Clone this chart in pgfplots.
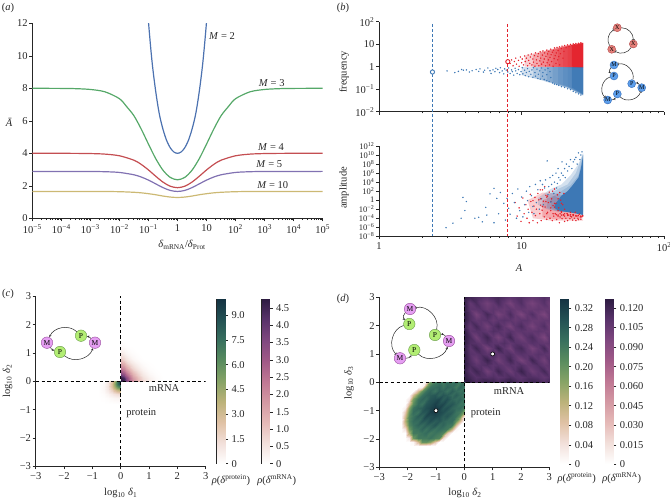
\documentclass[border=0pt]{standalone}
\usepackage{fontspec}
\setmainfont{Liberation Serif}
\usepackage{pgfplots}
\pgfplotsset{compat=1.18}
\usetikzlibrary{arrows.meta}

\definecolor{axc}{rgb}{.15,.15,.15}
\definecolor{cM2}{HTML}{4C72B0}
\definecolor{cM3}{HTML}{55A868}
\definecolor{cM4}{HTML}{C44E52}
\definecolor{cM5}{HTML}{8172B2}
\definecolor{cM10}{HTML}{CCB974}
\definecolor{sblue}{rgb}{.24,.47,.71}
\definecolor{sred}{rgb}{.89,.13,.17}
\definecolor{mfill}{rgb}{.90,.62,.95}
\definecolor{mdraw}{rgb}{.60,.30,.62}
\definecolor{pfill}{rgb}{.70,.93,.45}
\definecolor{pdraw}{rgb}{.42,.62,.30}
\definecolor{xfill}{rgb}{.90,.50,.48}
\definecolor{xdraw}{rgb}{.70,.28,.28}
\definecolor{bfill}{rgb}{.36,.62,.92}
\definecolor{bdraw}{rgb}{.20,.42,.72}

\newcommand{\fs}{\fontsize{10.5}{12}\selectfont}
\newcommand{\tp}[1]{10\textsuperscript{#1}}

\pgfplotsset{
  colormap={prot}{rgb=(1,1,1) rgb=(.95,.88,.86) rgb=(.88,.76,.65) rgb=(.74,.70,.48)
    rgb=(.53,.64,.40) rgb=(.35,.55,.37) rgb=(.22,.44,.37) rgb=(.14,.32,.33) rgb=(.08,.20,.26)},
  colormap={mrna}{rgb=(1,1,1) rgb=(.95,.88,.86) rgb=(.90,.73,.72) rgb=(.83,.60,.64)
    rgb=(.75,.47,.58) rgb=(.63,.35,.53) rgb=(.50,.28,.50) rgb=(.35,.20,.42) rgb=(.18,.11,.26)},
  base/.style={scale only axis, anchor=south west, axis lines=left,
    axis line style={-, line width=.6pt, color=axc},
    tick style={color=axc, line width=.5pt}, tick align=outside,
    major tick length=3pt, minor tick length=1.8pt,
    xtick pos=bottom, ytick pos=left,
    xticklabel style={inner sep=1pt, yshift=-1.8pt}, yticklabel style={inner sep=1.5pt},
    tick label style={font=\fs, text=axc}},
  heat/.style={scale only axis, anchor=south west, width=170pt, height=170pt, hide axis,
    xmin=-3, xmax=3, ymin=-3, ymax=3},
  squares/.style={base, width=170pt, height=170pt, xmin=-3, xmax=3, ymin=-3, ymax=3,
    xtick={-3,...,3}, ytick={-3,...,3},
    xticklabels={−3,−2,−1,0,1,2,3}, yticklabels={−3,−2,−1,0,1,2,3}},
  cb/.style={scale only axis, anchor=south west, xmin=0, xmax=1,
    axis line style={line width=.6pt, color=axc},
    tick style={color=axc, line width=.5pt}, tick align=outside, major tick length=3pt,
    xtick=\empty, ytick pos=right, tick label style={font=\fs, text=axc}},
  cross/.style={black, line width=1.1pt, dash pattern=on 3.2pt off 2.6pt},
  scat/.style={only marks, color=#1, mark=*, mark size=.5pt,
    mark options={draw=none, fill=#1, fill opacity=.4}},
  wash/.style={fill=#1, draw=none, fill opacity=.22},
}

\begin{document}
\begin{tikzpicture}[font=\fs]
\useasboundingbox (0pt,0pt) rectangle (670pt,-502pt);

% (a)
\begin{axis}[base, at={(32.3pt,-218.3pt)}, width=290.4pt, height=195pt,
  xmode=log, xmin=1e-5, xmax=1e5, ymin=0, ymax=12,
  xtick={1e-5,1e-4,1e-3,1e-2,1e-1,1,10,100,1000,1e4,1e5},
  xticklabels={\tp{−5},\tp{−4},\tp{−3},\tp{−2},\tp{−1},1,10,\tp{2},\tp{3},\tp{4},\tp{5}},
  ytick={0,2,...,12}, yticklabels={0,2,4,6,8,10,12},
  every axis plot/.append style={line width=1.2pt, smooth}]
\addplot[cM2] coordinates {(.08,14.6)(.1,12.1)(.133,9.63)(.178,7.8)(.237,6.41)(.316,5.48)(.422,4.79)(.562,4.34)(.75,4.08)(1,4)(1.33,4.08)(1.78,4.34)(2.37,4.79)(3.16,5.48)(4.22,6.41)(5.62,7.8)(7.5,9.63)(10,12.1)(12.5,14.6)};
\addplot[cM3] coordinates {(1e-5,8)(1e-4,7.993)(3.16e-4,7.977)(1e-3,7.928)(3.16e-3,7.785)(1e-2,7.361)(1.78e-2,6.87)(3.16e-2,6.309)(5.62e-2,5.496)(.1,4.565)(.178,3.671)(.316,2.959)(.562,2.517)(1,2.37)(1.78,2.517)(3.16,2.959)(5.62,3.671)(10,4.565)(17.8,5.496)(31.6,6.309)(56.2,6.87)(100,7.361)(316,7.785)(1000,7.928)(3160,7.977)(1e4,7.993)(1e5,8)};
\addplot[cM4] coordinates {(1e-5,4)(1e-4,3.998)(3.16e-4,3.995)(1e-3,3.984)(3.16e-3,3.95)(1e-2,3.847)(3.16e-2,3.575)(5.62e-2,3.317)(.1,2.976)(.178,2.588)(.316,2.227)(.562,1.974)(1,1.884)(1.78,1.974)(3.16,2.227)(5.62,2.588)(10,2.976)(17.8,3.317)(31.6,3.575)(100,3.847)(316,3.95)(1000,3.984)(3160,3.995)(1e4,3.998)(1e5,4)};
\addplot[cM5] coordinates {(1e-5,2.886)(1e-4,2.885)(1e-3,2.88)(3.16e-3,2.867)(1e-2,2.822)(3.16e-2,2.678)(5.62e-2,2.541)(.1,2.35)(.178,2.119)(.316,1.888)(.562,1.715)(1,1.652)(1.78,1.715)(3.16,1.888)(5.62,2.119)(10,2.35)(17.8,2.541)(31.6,2.678)(100,2.822)(316,2.867)(1000,2.88)(1e4,2.885)(1e5,2.886)};
\addplot[cM10] coordinates {(1e-5,1.652)(1e-3,1.65)(3.16e-3,1.648)(1e-2,1.637)(3.16e-2,1.601)(5.62e-2,1.567)(.1,1.515)(.178,1.449)(.316,1.37)(.562,1.307)(1,1.281)(1.78,1.307)(3.16,1.37)(5.62,1.449)(10,1.515)(17.8,1.567)(31.6,1.601)(100,1.637)(316,1.648)(1000,1.65)(1e5,1.652)};
\end{axis}

% (b) frequency
\begin{axis}[base, at={(379pt,-111.7pt)}, width=285.3pt, height=90pt, clip=false,
  xmode=log, ymode=log, xmin=1, xmax=100, ymin=1e-2, ymax=100,
  xtick={1,10,100}, xticklabels={,,}, yminorticks=false,
  ytick={1e-2,1e-1,1,10,100}, yticklabels={\tp{−2},\tp{−1},1,10,\tp{2}}]
\addplot[wash=sblue] coordinates {(10,.95)(10,.42)(12,.31)(13.5,.26)(15,.21)(16.5,.18)(18,.155)(19.5,.13)(21,.115)(27,.052)(27,.95)} --cycle;
\addplot[wash=sblue] coordinates {(12,.95)(12,.33)(13.5,.27)(15,.22)(16.5,.18)(18,.155)(19.5,.13)(21,.115)(27,.053)(27,.95)} --cycle;
\addplot[wash=sblue] coordinates {(13.5,.95)(13.5,.29)(15,.23)(16.5,.19)(18,.16)(19.5,.135)(21,.118)(27,.054)(27,.95)} --cycle;
\addplot[wash=sblue] coordinates {(15,.95)(15,.24)(16.5,.2)(18,.165)(19.5,.14)(21,.12)(27,.055)(27,.95)} --cycle;
\addplot[wash=sblue] coordinates {(16.5,.95)(16.5,.21)(18,.17)(19.5,.145)(21,.125)(27,.056)(27,.95)} --cycle;
\addplot[wash=sblue] coordinates {(18,.95)(18,.18)(19.5,.15)(21,.13)(27,.057)(27,.95)} --cycle;
\addplot[wash=sblue] coordinates {(19.5,.95)(19.5,.16)(21,.135)(27,.058)(27,.95)} --cycle;
\addplot[wash=sblue] coordinates {(21,.95)(21,.14)(27,.059)(27,.95)} --cycle;
\addplot[fill=sblue, draw=none, fill opacity=.85] coordinates {(22.5,.95)(22.5,.12)(27,.06)(27,.95)} --cycle;
\addplot[wash=sred] coordinates {(10.5,1)(10.5,3.1)(12,3.8)(13.5,4.5)(15,5.4)(16.5,6.2)(18,7.2)(19.5,8.2)(21,9)(27,11.7)(27,.95)} --cycle;
\addplot[wash=sred] coordinates {(12,1)(12,3.6)(13.5,4.3)(15,5.2)(16.5,6)(18,7)(19.5,8)(21,9)(27,11.7)(27,.95)} --cycle;
\addplot[wash=sred] coordinates {(13.5,1)(13.5,4.1)(15,5)(16.5,5.8)(18,6.8)(19.5,7.8)(21,8.8)(27,11.6)(27,.95)} --cycle;
\addplot[wash=sred] coordinates {(15,1)(15,4.8)(16.5,5.6)(18,6.6)(19.5,7.6)(21,8.6)(27,11.6)(27,.95)} --cycle;
\addplot[wash=sred] coordinates {(16.5,1)(16.5,5.4)(18,6.4)(19.5,7.4)(21,8.4)(27,11.5)(27,.95)} --cycle;
\addplot[wash=sred] coordinates {(18,1)(18,6.2)(19.5,7.2)(21,8.2)(27,11.5)(27,.95)} --cycle;
\addplot[wash=sred] coordinates {(19.5,1)(19.5,7)(21,8.1)(27,11.4)(27,.95)} --cycle;
\addplot[wash=sred] coordinates {(21,1)(21,8)(27,11.3)(27,.95)} --cycle;
\addplot[fill=sred, draw=none, fill opacity=.85] coordinates {(22.5,1)(22.5,8.6)(27,11.2)(27,.95)} --cycle;
\addplot[scat=sblue] coordinates {(3,.65)(3.4,.55)(3.6,.62)(3.8,.75)(3.9,.7)(4.1,.72)(4.3,.58)(4.5,.66)(4.8,.75)(5,.62)(5.1,.8)(5.4,.58)(5.5,.7)(5.8,.88)(6,.66)(6.1,.5)(6.3,.72)(6.5,.6)(6.6,.85)(6.8,.75)(7,.55)(7.1,.9)(7.3,.65)(7.5,.48)(7.6,.8)(7.8,.7)(8,.58)(8.1,.88)(8.3,.5)(8.5,.72)(8.6,.6)(8.8,.42)(9,.85)(9.1,.65)(9.3,.5)(9.5,.75)(9.7,.44)(9.9,.6)(10.1,.9)(10.2,.48)(10.5,.7)(10.6,.4)(10.8,.55)(11,.82)(11.2,.36)(11.3,.62)(11.6,.46)(11.8,.72)(12,.34)(12.1,.9)(12.4,.55)(12.5,.38)(12.8,.78)(13,.3)(13.1,.46)(13.4,.65)(13.5,.28)(13.8,.88)(14,.38)(14.1,.55)(14.4,.27)(14.6,.72)(15,.24)(15,.44)(15.3,.85)(15.6,.22)(15.8,.6)(16,.33)(16.5,.19)(17,.17)(17.6,.16)(18.2,.15)(19,.13)(20,.12)(21,.105)(22,.095)(23,.08)(24,.07)(25,.062)(26,.055)};
\addplot[scat=sred] coordinates {(8.3,1.4)(8.5,2.0)(8.7,1.1)(8.9,1.7)(9.1,2.4)(9.2,1.3)(9.5,1.9)(9.6,1.05)(9.8,2.7)(10,1.5)(10.1,2.2)(10.3,1.2)(10.5,3)(10.6,1.7)(10.8,2.4)(11,1.1)(11.1,3.3)(11.2,1.9)(11.4,1.4)(11.5,2.7)(11.7,3.7)(11.8,1.2)(12,2.2)(12.1,1.6)(12.3,3.1)(12.4,1.05)(12.5,4.1)(12.7,2)(12.8,1.4)(13,2.9)(13.1,3.8)(13.2,1.1)(13.4,1.8)(13.5,4.6)(13.6,2.4)(13.8,1.3)(14,3.3)(14.1,5)(14.2,1.6)(14.4,2.2)(14.5,4.1)(14.7,1.1)(14.8,2.9)(15,5.5)(15.1,1.5)(15.2,3.7)(15.4,2)(15.5,4.8)(15.7,1.2)(15.8,2.6)(16,6)(16.1,3.4)(16.2,1.7)(16.4,4.4)(16.6,1.05)(16.7,5.4)(16.9,2.3)(17,6.8)(17.2,3.1)(17.4,1.4)(17.5,4.1)(17.7,7.2)(17.9,2)(18,5.2)(18.2,2.8)(18.4,7.6)(18.5,1.2)(18.7,3.8)(19,6.4)(19.2,8.2)(19.5,2.4)(19.8,4.8)(20,8.8)(20.5,7)(21,9.3)(21.5,7.8)(22,9.8)(22.5,8.6)(23,10.2)(23.5,9.4)(24,10.8)(25,11)(26,11.5)};
\addplot[color=sblue, line width=1.1pt, dash pattern=on 3pt off 2pt] coordinates {(2.37,80)(2.37,2.88e-8)};
\addplot[color=sred, line width=1.1pt, dash pattern=on 3pt off 2pt] coordinates {(8,80)(8,2.88e-8)};
\addplot[only marks, mark=*, mark size=2.1pt, mark options={fill=white, draw=sblue, line width=.9pt}] coordinates {(2.37,.58)};
\addplot[only marks, mark=*, mark size=2.1pt, mark options={fill=white, draw=sred, line width=.9pt}] coordinates {(8,1.67)};
\end{axis}

% (b) amplitude
\begin{axis}[base, at={(379pt,-236.3pt)}, width=285.3pt, height=90.3pt,
  xmode=log, ymode=log, xmin=1, xmax=100, ymin=1e-8, ymax=1e12,
  xtick={1,10,100}, xticklabels={1,10,\tp{2}}, yminorticks=false,
  ytick={1e-8,1e-6,1e-4,1e-2,1,1e2,1e4,1e6,1e8,1e10,1e12},
  yticklabels={\tp{−8},\tp{−6},\tp{−4},\tp{−2},1,\tp{2},\tp{4},\tp{6},\tp{8},\tp{10},\tp{12}},
  yticklabel style={font=\fontsize{8.5}{8.5}\selectfont, inner ysep=0pt}]
\addplot[scat=sred] coordinates {(9,.3)(9.3,3e-4)(9.6,.02)(9.9,2e-5)(10.2,3)(10.4,1e-3)(10.7,.1)(10.9,1e-4)(11.1,.01)(11.3,1e-5)(11.5,20)(11.6,.5)(11.8,2e-3)(12,3e-5)(12.2,.05)(12.4,4)(12.5,4e-4)(12.7,.01)(12.9,1e-5)(13,30)(13.2,1.2)(13.4,1e-3)(13.6,.08)(13.7,3e-5)(13.9,6e-3)(14,200)(14.2,.6)(14.4,2e-4)(14.6,.03)(14.8,12)(15,6e-5)(15.2,2e-3)(15.4,.3)(15.6,60)(15.8,1e-4)(16,5e-3)(16.2,2)(16.4,3e-5)(16.6,.06)(16.8,3e-4)(17,300)(17.2,1e-3)(17.4,.2)(17.6,5e-5)(17.8,15)(18,5e-4)(18.2,.02)(18.4,1e-5)(18.6,2e-4)(18.8,1)(19,3e-3)(19.2,8e-5)(19.4,.1)(19.6,5e-4)(19.8,30)(20,2e-5)(20.4,1e-4)(20.8,1e-3)(21,3e-5)(21.4,5e-4)(21.8,8e-5)(22,2e-3)(22.4,2e-4)(22.8,4e-5)(23,6e-4)(23.4,1e-4)(23.8,2e-3)(24,3e-5)(24.4,3e-4)(24.8,1e-4)(25,5e-5)(25.4,8e-4)(25.8,2e-4)(26,6e-5)(26.4,2e-4)(26.8,3e-4)(18,3e-4)(19,5e-4)(20,3e-4)(21,4e-4)(22,3e-4)(23,4e-4)(24,3e-4)(25,4e-4)(26,3e-4)(15,5)(16,.5)(17,.03)(18,2)(19,.2)(20,.01)(13.5,200)(14.5,1e3)(12,.8)(16.5,100)(18.5,50)};
\addplot[wash=sred] coordinates {(11,1)(14,50)(18,30)(21,1)(27,3e-5)(22,3e-5)(16,3e-5)(12,1e-4)} --cycle;
\addplot[wash=sred] coordinates {(14,1)(17,10)(21,.1)(27,1e-4)(22,6e-5)(17,6e-5)(14,2e-4)} --cycle;
\addplot[wash=sblue] coordinates {(13,3)(16,300)(19,3e3)(22,3e5)(25,1e8)(27,3e10)(27,3e-3)(22,2e-3)(18,3e-3)(15,.01)(13,.1)} --cycle;
\addplot[wash=sblue] coordinates {(15,10)(18,300)(21,3e3)(24,1e6)(27,2e10)(27,2e-3)(22,2e-3)(18,3e-3)(15,.02)} --cycle;
\addplot[wash=sblue] coordinates {(16,3)(19,100)(22,2e3)(25,3e5)(27,2e10)(27,1e-3)(22,2e-3)(18,4e-3)(16,.02)} --cycle;
\addplot[fill=sblue, draw=none] coordinates {(27,1e10)(26,1e7)(25,1e5)(23,3e3)(21,100)(19,10)(18,1)(17,.1)(17,.02)(18,5e-3)(20,3e-3)(23,1.5e-3)(27,5e-4)} --cycle;
\addplot[scat=sblue] coordinates {(2.95,8e-7)(3.3,8e-6)(3.76,1e-4)(3.88,4)(4,5e-3)(4.1,.5)(4.7,1e-4)(5,1.6e-4)(5.3,1.6e-5)(5.6,.025)(5.7,5e-4)(6,25)(6.4,400)(6.4,1e-5)(6.7,2.5)(6.9,1e-3)(7.1,50)(7.5,.2)(7.7,4e-5)(7.9,2.5)(8.1,.016)(8.3,8e-4)(8.6,30)(8.9,.3)(9.2,1e-4)(9.4,300)(9.7,.005)(10,5)(10.2,2e-4)(10.5,.1)(10.8,100)(11,.8)(11.2,2e-3)(11.4,1e3)(11.7,10)(12,.04)(12.2,1e-3)(12.5,3e3)(12.7,.3)(13,200)(13.3,.01)(13.5,2e4)(13.8,2)(14,3e3)(14.2,.1)(14.5,500)(14.7,3e4)(15.1,5e8)(15.3,20)(15.5,1e3)(15.8,1e5)(16,.4)(16.2,3e3)(16.5,3e5)(16.8,30)(17,1e4)(17.4,1e6)(17.6,500)(17.8,5e3)(18,1e7)(18.2,1e5)(18.6,3e4)(19,1e6)(19.2,3e8)(19.5,3e5)(20,1e7)(20.2,1e5)(20.6,1e8)(21,3e6)(21.5,3e7)(22,1e9)(22.5,1e7)(23,3e8)(23.5,1e9)(24,3e9)(24.5,1e8)(25,3e10)(25.6,1e9)(26,1e10)(26.5,5e10)};
\addplot[scat=sred] coordinates {(15,1e-3)(16,2e-2)(16.6,1e-3)(17,.2)(17.5,6e-4)(18,5e-3)(18.6,1e-3)(19,2e-3)(19.6,6e-4)(20,1e-3)(21,8e-4)(22,6e-4)(23,6e-4)(24,4e-4)(25,4e-4)(26,3e-4)(26.8,4e-4)(14.8,.5)(15.2,8)(14,.04)(13.6,2)};
\end{axis}

% (c)
\begin{axis}[heat, at={(35.7pt,-466.3pt)}, colormap name=mrna, point meta min=0, point meta max=4.76]
\addplot[surf, shader=interp, mesh/cols=10, point meta=explicit] coordinates {
(0,0)[4.75](.1,0)[4.6](.2,0)[3.8](.3,0)[2.9](.45,0)[1.9](.6,0)[1.2](.8,0)[.7](1,0)[.35](1.25,0)[.12](1.5,0)[0]
(0,.1)[4.7](.1,.1)[4.4](.2,.1)[3.5](.3,.1)[2.7](.45,.1)[1.75](.6,.1)[1.1](.8,.1)[.62](1,.1)[.3](1.25,.1)[.09](1.5,.1)[0]
(0,.2)[4.2](.1,.2)[3.7](.2,.2)[3](.3,.2)[2.4](.45,.2)[1.5](.6,.2)[.95](.8,.2)[.5](1,.2)[.22](1.25,.2)[.06](1.5,.2)[0]
(0,.3)[3.3](.1,.3)[2.9](.2,.3)[2.4](.3,.3)[1.9](.45,.3)[1.2](.6,.3)[.72](.8,.3)[.36](1,.3)[.14](1.25,.3)[.03](1.5,.3)[0]
(0,.45)[2.4](.1,.45)[2.1](.2,.45)[1.7](.3,.45)[1.3](.45,.45)[.8](.6,.45)[.45](.8,.45)[.2](1,.45)[.06](1.25,.45)[.01](1.5,.45)[0]
(0,.6)[1.6](.1,.6)[1.4](.2,.6)[1.05](.3,.6)[.75](.45,.6)[.45](.6,.6)[.22](.8,.6)[.08](1,.6)[.02](1.25,.6)[0](1.5,.6)[0]
(0,.8)[.9](.1,.8)[.72](.2,.8)[.52](.3,.8)[.33](.45,.8)[.16](.6,.8)[.06](.8,.8)[.01](1,.8)[0](1.25,.8)[0](1.5,.8)[0]
(0,1)[.42](.1,1)[.3](.2,1)[.2](.3,1)[.11](.45,1)[.05](.6,1)[.01](.8,1)[0](1,1)[0](1.25,1)[0](1.5,1)[0]
(0,1.25)[.1](.1,1.25)[.06](.2,1.25)[.03](.3,1.25)[.01](.45,1.25)[0](.6,1.25)[0](.8,1.25)[0](1,1.25)[0](1.25,1.25)[0](1.5,1.25)[0]
(0,1.5)[0](.1,1.5)[0](.2,1.5)[0](.3,1.5)[0](.45,1.5)[0](.6,1.5)[0](.8,1.5)[0](1,1.5)[0](1.25,1.5)[0](1.5,1.5)[0]
};
\end{axis}
\begin{axis}[squares, at={(35.7pt,-466.3pt)}, colormap name=prot, point meta min=0, point meta max=9.97]
\addplot[surf, shader=interp, mesh/cols=7, point meta=explicit] coordinates {
(-.8,0)[0](-.6,0)[.15](-.45,0)[.8](-.3,0)[2.4](-.2,0)[4.6](-.1,0)[8](0,0)[9.9]
(-.8,-.1)[0](-.6,-.1)[.3](-.45,-.1)[1](-.3,-.1)[3](-.2,-.1)[5.2](-.1,-.1)[7.8](0,-.1)[9]
(-.8,-.2)[0](-.6,-.2)[.35](-.45,-.2)[1.1](-.3,-.2)[2.7](-.2,-.2)[4.4](-.1,-.2)[6](0,-.2)[6.8]
(-.8,-.3)[0](-.6,-.3)[.3](-.45,-.3)[.9](-.3,-.3)[1.9](-.2,-.3)[2.9](-.1,-.3)[3.6](0,-.3)[4]
(-.8,-.45)[0](-.6,-.45)[.15](-.45,-.45)[.45](-.3,-.45)[.9](-.2,-.45)[1.2](-.1,-.45)[1.4](0,-.45)[1.5]
(-.8,-.6)[0](-.6,-.6)[.05](-.45,-.6)[.15](-.3,-.6)[.3](-.2,-.6)[.4](-.1,-.6)[.45](0,-.6)[.45]
(-.8,-.8)[0](-.6,-.8)[0](-.45,-.8)[0](-.3,-.8)[0](-.2,-.8)[0](-.1,-.8)[0](0,-.8)[0]
};
\addplot[cross] coordinates {(-3,0)(3,0)};
\addplot[cross] coordinates {(0,-3)(0,3)};
\end{axis}
\begin{axis}[cb, at={(216.7pt,-463.7pt)}, width=8.3pt, height=164.7pt, ymin=0, ymax=9.97,
  colormap name=prot, point meta min=0, point meta max=9.97,
  ytick={0,1.5,3,4.5,6,7.5,9}, yticklabels={0,1.5,3.0,4.5,6.0,7.5,9.0}]
\addplot[surf, shader=interp, mesh/cols=2, point meta=explicit] coordinates {(0,0)[0](1,0)[0](0,9.97)[9.97](1,9.97)[9.97]};
\end{axis}
\begin{axis}[cb, at={(261.7pt,-463.7pt)}, width=7.8pt, height=164.7pt, ymin=0, ymax=4.76,
  colormap name=mrna, point meta min=0, point meta max=4.76,
  ytick={0,.5,1,1.5,2,2.5,3,3.5,4,4.5}, yticklabels={0,0.5,1.0,1.5,2.0,2.5,3.0,3.5,4.0,4.5}]
\addplot[surf, shader=interp, mesh/cols=2, point meta=explicit] coordinates {(0,0)[0](1,0)[0](0,4.76)[4.76](1,4.76)[4.76]};
\end{axis}

% (d)
\begin{axis}[heat, at={(379.3pt,-467.3pt)}, colormap name=mrna, point meta min=0, point meta max=.118]
\addplot[surf, shader=interp, mesh/cols=16, point meta=explicit] coordinates {
(0,0)[.122](.2,0)[.116](.4,0)[.108](.6,0)[.112](.8,0)[.116](1,0)[.114](1.2,0)[.108](1.4,0)[.112](1.6,0)[.118](1.8,0)[.112](2,0)[.106](2.2,0)[.11](2.4,0)[.114](2.6,0)[.112](2.8,0)[.106](3,0)[.11]
(0,.2)[.12](.2,.2)[.11](.4,.2)[.104](.6,.2)[.106](.8,.2)[.104](1,.2)[.106](1.2,.2)[.102](1.4,.2)[.104](1.6,.2)[.108](1.8,.2)[.104](2,.2)[.102](2.2,.2)[.106](2.4,.2)[.106](2.6,.2)[.104](2.8,.2)[.1](3,.2)[.104]
(0,.4)[.116](.2,.4)[.104](.4,.4)[.112](.6,.4)[.106](.8,.4)[.094](1,.4)[.102](1.2,.4)[.112](1.4,.4)[.104](1.6,.4)[.096](1.8,.4)[.104](2,.4)[.114](2.2,.4)[.104](2.4,.4)[.096](2.6,.4)[.102](2.8,.4)[.11](3,.4)[.1]
(0,.6)[.118](.2,.6)[.108](.4,.6)[.102](.6,.6)[.104](.8,.6)[.106](1,.6)[.102](1.2,.6)[.104](1.4,.6)[.1](1.6,.6)[.104](1.8,.6)[.102](2,.6)[.106](2.2,.6)[.1](2.4,.6)[.102](2.6,.6)[.106](2.8,.6)[.1](3,.6)[.102]
(0,.8)[.122](.2,.8)[.106](.4,.8)[.096](.6,.8)[.104](.8,.8)[.114](1,.8)[.104](1.2,.8)[.094](1.4,.8)[.102](1.6,.8)[.112](1.8,.8)[.102](2,.8)[.092](2.2,.8)[.1](2.4,.8)[.112](2.6,.8)[.102](2.8,.8)[.094](3,.8)[.104]
(0,1)[.118](.2,1)[.104](.4,1)[.102](.6,1)[.106](.8,1)[.102](1,1)[.108](1.2,1)[.1](1.4,1)[.104](1.6,1)[.106](1.8,1)[.1](2,1)[.104](2.2,1)[.102](2.4,1)[.1](2.6,1)[.104](2.8,1)[.102](3,1)[.1]
(0,1.2)[.116](.2,1.2)[.102](.4,1.2)[.112](.6,1.2)[.104](.8,1.2)[.092](1,1.2)[.102](1.2,1.2)[.114](1.4,1.2)[.102](1.6,1.2)[.094](1.8,1.2)[.106](2,1.2)[.11](2.2,1.2)[.1](2.4,1.2)[.092](2.6,1.2)[.1](2.8,1.2)[.11](3,1.2)[.098]
(0,1.4)[.12](.2,1.4)[.106](.4,1.4)[.104](.6,1.4)[.1](.8,1.4)[.106](1,1.4)[.102](1.2,1.4)[.102](1.4,1.4)[.106](1.6,1.4)[.1](1.8,1.4)[.104](2,1.4)[.102](2.2,1.4)[.1](2.4,1.4)[.104](2.6,1.4)[.102](2.8,1.4)[.1](3,1.4)[.102]
(0,1.6)[.122](.2,1.6)[.108](.4,1.6)[.094](.6,1.6)[.104](.8,1.6)[.112](1,1.6)[.1](1.2,1.6)[.092](1.4,1.6)[.102](1.6,1.6)[.112](1.8,1.6)[.1](2,1.6)[.094](2.2,1.6)[.104](2.4,1.6)[.108](2.6,1.6)[.098](2.8,1.6)[.09](3,1.6)[.102]
(0,1.8)[.118](.2,1.8)[.102](.4,1.8)[.104](.6,1.8)[.104](.8,1.8)[.1](1,1.8)[.106](1.2,1.8)[.104](1.4,1.8)[.1](1.6,1.8)[.104](1.8,1.8)[.1](2,1.8)[.102](2.2,1.8)[.1](2.4,1.8)[.1](2.6,1.8)[.102](2.8,1.8)[.1](3,1.8)[.098]
(0,2)[.114](.2,2)[.1](.4,2)[.11](.6,2)[.102](.8,2)[.094](1,2)[.104](1.2,2)[.11](1.4,2)[.1](1.6,2)[.092](1.8,2)[.102](2,2)[.108](2.2,2)[.098](2.4,2)[.092](2.6,2)[.1](2.8,2)[.106](3,2)[.096]
(0,2.2)[.118](.2,2.2)[.106](.4,2.2)[.1](.6,2.2)[.102](.8,2.2)[.104](1,2.2)[.098](1.2,2.2)[.102](1.4,2.2)[.104](1.6,2.2)[.102](1.8,2.2)[.098](2,2.2)[.102](2.2,2.2)[.102](2.4,2.2)[.098](2.6,2.2)[.098](2.8,2.2)[.1](3,2.2)[.1]
(0,2.4)[.12](.2,2.4)[.106](.4,2.4)[.092](.6,2.4)[.1](.8,2.4)[.11](1,2.4)[.102](1.2,2.4)[.092](1.4,2.4)[.098](1.6,2.4)[.108](1.8,2.4)[.098](2,2.4)[.09](2.2,2.4)[.1](2.4,2.4)[.106](2.6,2.4)[.096](2.8,2.4)[.09](3,2.4)[.1]
(0,2.6)[.116](.2,2.6)[.102](.4,2.6)[.102](.6,2.6)[.104](.8,2.6)[.098](1,2.6)[.102](1.2,2.6)[.1](1.4,2.6)[.098](1.6,2.6)[.102](1.8,2.6)[.098](2,2.6)[.1](2.2,2.6)[.098](2.4,2.6)[.098](2.6,2.6)[.1](2.8,2.6)[.098](3,2.6)[.098]
(0,2.8)[.116](.2,2.8)[.1](.4,2.8)[.108](.6,2.8)[.1](.8,2.8)[.094](1,2.8)[.1](1.2,2.8)[.108](1.4,2.8)[.1](1.6,2.8)[.092](1.8,2.8)[.1](2,2.8)[.106](2.2,2.8)[.096](2.4,2.8)[.092](2.6,2.8)[.098](2.8,2.8)[.104](3,2.8)[.096]
(0,3)[.122](.2,3)[.112](.4,3)[.108](.6,3)[.106](.8,3)[.104](1,3)[.108](1.2,3)[.11](1.4,3)[.106](1.6,3)[.102](1.8,3)[.104](2,3)[.106](2.2,3)[.102](2.4,3)[.1](2.6,3)[.102](2.8,3)[.106](3,3)[.102]
};
\end{axis}
\begin{axis}[squares, at={(379.3pt,-467.3pt)}, colormap name=prot, point meta min=0, point meta max=.338]
\addplot[surf, shader=interp, mesh/cols=16, point meta=explicit] coordinates {
(-2.25,0)[0](-2.1,0)[0](-1.95,0)[0](-1.8,0)[0](-1.65,0)[0](-1.5,0)[0](-1.35,0)[.02](-1.2,0)[.19](-1.05,0)[.24](-.9,0)[.25](-.75,0)[.24](-.6,0)[.26](-.45,0)[.25](-.3,0)[.26](-.15,0)[.24](0,0)[.25]
(-2.25,-.15)[0](-2.1,-.15)[0](-1.95,-.15)[0](-1.8,-.15)[0](-1.65,-.15)[0](-1.5,-.15)[.02](-1.35,-.15)[.19](-1.2,-.15)[.25](-1.05,-.15)[.26](-.9,-.15)[.27](-.75,-.15)[.25](-.6,-.15)[.27](-.45,-.15)[.26](-.3,-.15)[.24](-.15,-.15)[.27](0,-.15)[.25]
(-2.25,-.3)[0](-2.1,-.3)[0](-1.95,-.3)[0](-1.8,-.3)[0](-1.65,-.3)[.1](-1.5,-.3)[.2](-1.35,-.3)[.25](-1.2,-.3)[.27](-1.05,-.3)[.25](-.9,-.3)[.28](-.75,-.3)[.27](-.6,-.3)[.25](-.45,-.3)[.28](-.3,-.3)[.26](-.15,-.3)[.25](0,-.3)[.26]
(-2.25,-.45)[0](-2.1,-.45)[0](-1.95,-.45)[0](-1.8,-.45)[.1](-1.65,-.45)[.2](-1.5,-.45)[.25](-1.35,-.45)[.27](-1.2,-.45)[.28](-1.05,-.45)[.29](-.9,-.45)[.27](-.75,-.45)[.29](-.6,-.45)[.28](-.45,-.45)[.26](-.3,-.45)[.28](-.15,-.45)[.26](0,-.45)[.24]
(-2.25,-.6)[0](-2.1,-.6)[0](-1.95,-.6)[.03](-1.8,-.6)[.18](-1.65,-.6)[.25](-1.5,-.6)[.27](-1.35,-.6)[.26](-1.2,-.6)[.29](-1.05,-.6)[.3](-.9,-.6)[.31](-.75,-.6)[.28](-.6,-.6)[.3](-.45,-.6)[.27](-.3,-.6)[.26](-.15,-.6)[.27](0,-.6)[.25]
(-2.25,-.75)[0](-2.1,-.75)[0](-1.95,-.75)[.09](-1.8,-.75)[.21](-1.65,-.75)[.26](-1.5,-.75)[.25](-1.35,-.75)[.29](-1.2,-.75)[.3](-1.05,-.75)[.32](-.9,-.75)[.3](-.75,-.75)[.31](-.6,-.75)[.28](-.45,-.75)[.29](-.3,-.75)[.27](-.15,-.75)[.25](0,-.75)[.25]
(-2.25,-.9)[0](-2.1,-.9)[.02](-1.95,-.9)[.17](-1.8,-.9)[.25](-1.65,-.9)[.27](-1.5,-.9)[.28](-1.35,-.9)[.3](-1.2,-.9)[.31](-1.05,-.9)[.33](-.9,-.9)[.32](-.75,-.9)[.29](-.6,-.9)[.3](-.45,-.9)[.27](-.3,-.9)[.26](-.15,-.9)[.26](0,-.9)[.23]
(-2.25,-1.05)[0](-2.1,-1.05)[.07](-1.95,-1.05)[.2](-1.8,-1.05)[.26](-1.65,-1.05)[.25](-1.5,-1.05)[.29](-1.35,-1.05)[.29](-1.2,-1.05)[.32](-1.05,-1.05)[.33](-.9,-1.05)[.31](-.75,-1.05)[.3](-.6,-1.05)[.28](-.45,-1.05)[.28](-.3,-1.05)[.25](-.15,-1.05)[.24](0,-1.05)[.18]
(-2.25,-1.2)[0](-2.1,-1.2)[.1](-1.95,-1.2)[.22](-1.8,-1.2)[.25](-1.65,-1.2)[.28](-1.5,-1.2)[.27](-1.35,-1.2)[.31](-1.2,-1.2)[.3](-1.05,-1.2)[.31](-.9,-1.2)[.3](-.75,-1.2)[.28](-.6,-1.2)[.29](-.45,-1.2)[.26](-.3,-1.2)[.25](-.15,-1.2)[.2](0,-1.2)[.05]
(-2.25,-1.35)[0](-2.1,-1.35)[.13](-1.95,-1.35)[.23](-1.8,-1.35)[.26](-1.65,-1.35)[.26](-1.5,-1.35)[.29](-1.35,-1.35)[.28](-1.2,-1.35)[.3](-1.05,-1.35)[.28](-.9,-1.35)[.29](-.75,-1.35)[.27](-.6,-1.35)[.26](-.45,-1.35)[.26](-.3,-1.35)[.2](-.15,-1.35)[.1](0,-1.35)[0]
(-2.25,-1.5)[0](-2.1,-1.5)[.1](-1.95,-1.5)[.22](-1.8,-1.5)[.25](-1.65,-1.5)[.27](-1.5,-1.5)[.26](-1.35,-1.5)[.28](-1.2,-1.5)[.27](-1.05,-1.5)[.29](-.9,-1.5)[.26](-.75,-1.5)[.27](-.6,-1.5)[.25](-.45,-1.5)[.24](-.3,-1.5)[.1](-.15,-1.5)[0](0,-1.5)[0]
(-2.25,-1.65)[0](-2.1,-1.65)[.04](-1.95,-1.65)[.19](-1.8,-1.65)[.24](-1.65,-1.65)[.25](-1.5,-1.65)[.27](-1.35,-1.65)[.25](-1.2,-1.65)[.27](-1.05,-1.65)[.25](-.9,-1.65)[.26](-.75,-1.65)[.25](-.6,-1.65)[.24](-.45,-1.65)[.12](-.3,-1.65)[.01](-.15,-1.65)[0](0,-1.65)[0]
(-2.25,-1.8)[0](-2.1,-1.8)[0](-1.95,-1.8)[.14](-1.8,-1.8)[.24](-1.65,-1.8)[.24](-1.5,-1.8)[.25](-1.35,-1.8)[.26](-1.2,-1.8)[.24](-1.05,-1.8)[.25](-.9,-1.8)[.24](-.75,-1.8)[.22](-.6,-1.8)[.08](-.45,-1.8)[0](-.3,-1.8)[0](-.15,-1.8)[0](0,-1.8)[0]
(-2.25,-1.95)[0](-2.1,-1.95)[0](-1.95,-1.95)[.03](-1.8,-1.95)[.19](-1.65,-1.95)[.24](-1.5,-1.95)[.24](-1.35,-1.95)[.24](-1.2,-1.95)[.25](-1.05,-1.95)[.23](-.9,-1.95)[.22](-.75,-1.95)[.05](-.6,-1.95)[0](-.45,-1.95)[0](-.3,-1.95)[0](-.15,-1.95)[0](0,-1.95)[0]
(-2.25,-2.1)[0](-2.1,-2.1)[0](-1.95,-2.1)[0](-1.8,-2.1)[.01](-1.65,-2.1)[.1](-1.5,-2.1)[.2](-1.35,-2.1)[.2](-1.2,-2.1)[.17](-1.05,-2.1)[.08](-.9,-2.1)[0](-.75,-2.1)[0](-.6,-2.1)[0](-.45,-2.1)[0](-.3,-2.1)[0](-.15,-2.1)[0](0,-2.1)[0]
(-2.25,-2.25)[0](-2.1,-2.25)[0](-1.95,-2.25)[0](-1.8,-2.25)[0](-1.65,-2.25)[0](-1.5,-2.25)[0](-1.35,-2.25)[0](-1.2,-2.25)[0](-1.05,-2.25)[0](-.9,-2.25)[0](-.75,-2.25)[0](-.6,-2.25)[0](-.45,-2.25)[0](-.3,-2.25)[0](-.15,-2.25)[0](0,-2.25)[0]
};
\addplot[cross] coordinates {(-3,0)(3,0)};
\addplot[cross] coordinates {(0,-3)(0,3)};
\addplot[only marks, mark=*, mark size=2pt, mark options={fill=white, draw=black, line width=.6pt}] coordinates {(1,1)(-1,-1)};
\end{axis}
\begin{axis}[cb, at={(560.3pt,-464.3pt)}, width=8pt, height=165pt, ymin=0, ymax=.338,
  colormap name=prot, point meta min=0, point meta max=.338,
  ytick={0,.04,.08,.12,.16,.2,.24,.28,.32}, yticklabels={0,0.04,0.08,0.12,0.16,0.20,0.24,0.28,0.32}]
\addplot[surf, shader=interp, mesh/cols=2, point meta=explicit] coordinates {(0,0)[0](1,0)[0](0,.338)[.338](1,.338)[.338]};
\end{axis}
\begin{axis}[cb, at={(605pt,-464.3pt)}, width=8.3pt, height=165pt, ymin=0, ymax=.1267,
  colormap name=mrna, point meta min=0, point meta max=.1267,
  ytick={0,.015,.03,.045,.06,.075,.09,.105,.12}, yticklabels={0,0.015,0.030,0.045,0.060,0.075,0.090,0.105,0.120}]
\addplot[surf, shader=interp, mesh/cols=2, point meta=explicit] coordinates {(0,0)[0](1,0)[0](0,.1267)[.1267](1,.1267)[.1267]};
\end{axis}

% text and little network sketches, in picture pixels from the top left corner
\begin{scope}[x=1pt, y=-1pt, text=axc]
\node at (8,8) {(\textit{a})};
\node at (343,8) {(\textit{b})};
\node at (8,293.7) {(\textit{c})};
\node at (343,299) {(\textit{d})};

\node at (222,35.7) {\textit{M} = 2};
\node at (271.7,82.7) {\textit{M} = 3};
\node at (271,147) {\textit{M} = 4};
\node at (269.3,164) {\textit{M} = 5};
\node at (272.7,185) {\textit{M} = 10};
\node at (9,122) {\textit{Ā}};
\node at (182,245) {\textit{δ}\textsubscript{mRNA}/\textit{δ}\textsubscript{Prot}};

\node[rotate=90] at (344,72) {frequency};
\node[rotate=90] at (344,188) {amplitude};
\node at (519,268) {\textit{A}};

\node at (164,388) {mRNA};
\node at (141.3,412.7) {protein};
\node at (120.7,493) {log\textsubscript{10} \textit{δ}\textsubscript{1}};
\node[rotate=90] at (7.5,381) {log\textsubscript{10} \textit{δ}\textsubscript{2}};
\node at (231,480) {\textit{ρ}(\textit{δ}\textsuperscript{protein})};
\node at (276.7,480) {\textit{ρ}(\textit{δ}\textsuperscript{mRNA})};

\node at (509,391) {mRNA};
\node at (485.7,413) {protein};
\node at (465,493) {log\textsubscript{10} \textit{δ}\textsubscript{2}};
\node[rotate=90] at (349,382.7) {log\textsubscript{10} \textit{δ}\textsubscript{3}};
\node at (576.7,478) {\textit{ρ}(\textit{δ}\textsuperscript{protein})};
\node at (621.7,478) {\textit{ρ}(\textit{δ}\textsuperscript{mRNA})};

\tikzset{
  sp/.style={circle, draw=#1, line width=.4pt, inner sep=0pt, font=\fontsize{6}{6}\selectfont, text=black},
  X/.style={sp=xdraw, fill=xfill, minimum size=8pt},
  bM/.style={sp=bdraw, fill=bfill, minimum size=8pt},
  gM/.style={sp=mdraw, fill=mfill, minimum size=11.5pt, font=\fontsize{7.5}{7.5}\selectfont},
  gP/.style={sp=pdraw, fill=pfill, minimum size=11.5pt, font=\fontsize{7.5}{7.5}\selectfont},
  lk/.style={axc, line width=.5pt, -{Stealth[length=2.4pt,width=2.2pt]}},
  rp/.style={axc, line width=.5pt, -{Bar[width=3pt]}},
}
% (b) top ring
\node[X] (x1) at (617.3,27.7) {X};
\node[X] (x2) at (633.3,44) {X};
\node[X] (x3) at (611.7,49.3) {X};
\draw[rp] (x1) to[bend left=45] (x2);
\draw[rp] (x2) to[bend left=45] (x3);
\draw[rp] (x3) to[bend left=45] (x1);
% (b) bottom ring
\node[bM] (m1) at (614,65) {M};
\node[bM] (p1) at (614,76) {P};
\node[bM] (p2) at (631.7,83.7) {P};
\node[bM] (m2) at (641.7,87.7) {M};
\node[bM] (p3) at (617.3,94) {P};
\node[bM] (m3) at (607.7,100) {M};
\draw[lk] (m1) to[bend right=50] (p1);
\draw[lk] (m2) to[bend right=30] (p2);
\draw[lk] (m3) to[bend right=30] (p3);
\draw[rp] (p1) to[bend right=60] (m3);
\draw[rp] (p3) to[bend right=60] (m2);
\draw[rp] (p2) to[bend right=60] (m1);
% (c)
\node[gM] (cm1) at (47,342.7) {M};
\node[gP] (cp1) at (60,352) {P};
\node[gP] (cp2) at (81,335.7) {P};
\node[gM] (cm2) at (95,342.7) {M};
\draw[lk] (cm1) to[bend right=20] (cp1);
\draw[lk] (cm2) to[bend right=20] (cp2);
\draw[lk] (cp1) to[bend right=55] (cm2);
\draw[lk] (cp2) to[bend right=55] (cm1);
% (d)
\node[gM] (dm1) at (410,309) {M};
\node[gP] (dp1) at (409.3,324) {P};
\node[gP] (dp2) at (435,335) {P};
\node[gM] (dm2) at (449,341) {M};
\node[gP] (dp3) at (414.3,350) {P};
\node[gM] (dm3) at (400,358.3) {M};
\draw[lk] (dm1) to[bend right=50] (dp1);
\draw[lk] (dm2) to[bend right=30] (dp2);
\draw[lk] (dm3) to[bend right=30] (dp3);
\draw[rp] (dp1) to[bend right=60] (dm3);
\draw[lk] (dp3) to[bend right=60] (dm2);
\draw[rp] (dp2) to[bend right=60] (dm1);
\end{scope}
\end{tikzpicture}
\end{document}
